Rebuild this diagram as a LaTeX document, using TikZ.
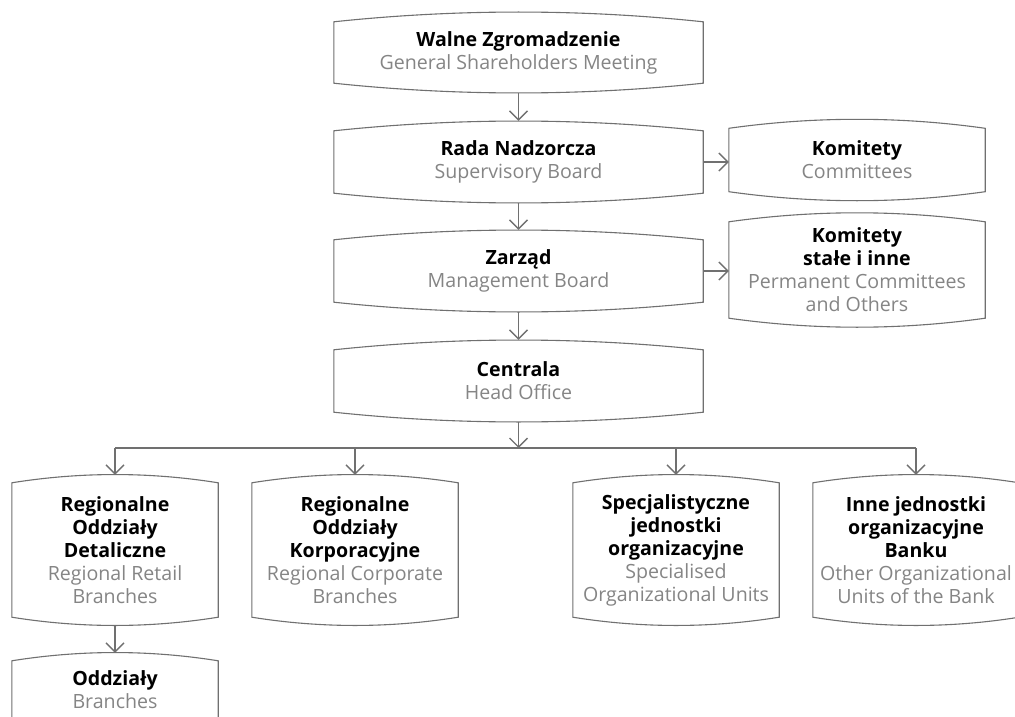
\documentclass[tikz,border=0pt]{standalone}
\usepackage{fontspec}
\setmainfont{Open Sans}
\usetikzlibrary{arrows.meta,calc}
\definecolor{linegray}{HTML}{707070}
\definecolor{subgray}{HTML}{858585}
\tikzset{
  orgbox/.style={inner sep=0pt, align=center, font=\fontsize{19.6}{23}\selectfont},
  conn/.style={draw=linegray, line width=1.4pt, -{Straight Barb[length=9pt,width=18pt,line width=1.4pt]}},
  busline/.style={draw=linegray, line width=1.4pt},
  outline/.style={draw=linegray, line width=1.1pt},
}
\newcommand\ttl[1]{\textbf{#1}}
\newcommand\subt[1]{\textcolor{subgray}{#1}}
\newcommand\bulgeoutline[2]{%
  \draw[outline] (#1.north west)
    .. controls ($(#1.north west)!0.3333!(#1.north east)+(0pt,#2)$) and ($(#1.north west)!0.6667!(#1.north east)+(0pt,#2)$) .. (#1.north east)
    -- (#1.south east)
    .. controls ($(#1.south east)!0.3333!(#1.south west)-(0pt,#2)$) and ($(#1.south east)!0.6667!(#1.south west)-(0pt,#2)$) .. (#1.south west)
    -- cycle;}
\begin{document}
\begin{tikzpicture}[x=1pt,y=-1pt]
\clip (0,0) rectangle (1015,717);
\fill[white] (0,0) rectangle (1015,717);
% main column
\node[orgbox, minimum width=369pt, minimum height=61pt] (W) at (518.5,52.5) {\ttl{Walne Zgromadzenie}\\\subt{General Shareholders Meeting}};
\node[orgbox, minimum width=369pt, minimum height=62pt] (R) at (518.5,162) {\ttl{Rada Nadzorcza}\\\subt{Supervisory Board}};
\node[orgbox, minimum width=369pt, minimum height=62pt] (Z) at (518.5,271) {\ttl{Zarząd}\\\subt{Management Board}};
\node[orgbox, minimum width=369pt, minimum height=62pt] (C) at (518.5,381) {\ttl{Centrala}\\\subt{Head Office}};
% committees
\node[orgbox, minimum width=256pt, minimum height=63pt] (K1) at (857,160) {\ttl{Komitety}\\\subt{Committees}};
\node[orgbox, minimum width=256pt, minimum height=96pt] (K2) at (857,270) {\ttl{Komitety}\\\ttl{stałe i inne}\\\subt{Permanent Committees}\\\subt{and Others}};
% bottom row
\node[orgbox, minimum width=206pt, minimum height=134pt] (A) at (115,550) {\ttl{Regionalne}\\\ttl{Oddziały}\\\ttl{Detaliczne}\\\subt{Regional Retail}\\\subt{Branches}};
\node[orgbox, minimum width=206pt, minimum height=134pt] (B) at (355,550) {\ttl{Regionalne}\\\ttl{Oddziały}\\\ttl{Korporacyjne}\\\subt{Regional Corporate}\\\subt{Branches}};
\node[orgbox, minimum width=206pt, minimum height=134pt] (S) at (676,550) {\ttl{Specjalistyczne}\\\ttl{jednostki}\\\ttl{organizacyjne}\\\subt{Specialised}\\\subt{Organizational Units}};
\node[orgbox, minimum width=206pt, minimum height=134pt] (D) at (916,550) {\ttl{Inne jednostki}\\\ttl{organizacyjne}\\\ttl{Banku}\\\subt{Other Organizational}\\\subt{Units of the Bank}};
\node[orgbox, minimum width=206pt, minimum height=100pt] (E) at (115,711) {};
\node[orgbox] (Et) at (115,690) {\ttl{Oddziały}\\\subt{Branches}};
% outlines
\bulgeoutline{W}{13pt}
\bulgeoutline{R}{13pt}
\bulgeoutline{Z}{13pt}
\bulgeoutline{C}{13pt}
\bulgeoutline{K1}{12pt}
\bulgeoutline{K2}{12pt}
\bulgeoutline{A}{11pt}
\bulgeoutline{B}{11pt}
\bulgeoutline{S}{11pt}
\bulgeoutline{D}{11pt}
\bulgeoutline{E}{11pt}
% connectors
\draw[conn] ([yshift=-10pt]W.south) -- ([yshift=10pt]R.north);
\draw[conn] ([yshift=-10pt]R.south) -- ([yshift=10pt]Z.north);
\draw[conn] ([yshift=-10pt]Z.south) -- ([yshift=10pt]C.north);
\draw[conn] (R.east) -- (R.east -| K1.west);
\draw[conn] (Z.east) -- (Z.east -| K2.west);
\coordinate (bus) at (518.5,448);
\draw[conn] ([yshift=-10pt]C.south) -- (bus);
\draw[busline] (bus -| A.north) -- (bus -| D.north);
\draw[conn] (bus -| A.north) -- ([yshift=8pt]A.north);
\draw[conn] (bus -| B.north) -- ([yshift=8pt]B.north);
\draw[conn] (bus -| S.north) -- ([yshift=8pt]S.north);
\draw[conn] (bus -| D.north) -- ([yshift=8pt]D.north);
\draw[conn] ([yshift=-8pt]A.south) -- ([yshift=8pt]E.north);
\end{tikzpicture}
\end{document}
